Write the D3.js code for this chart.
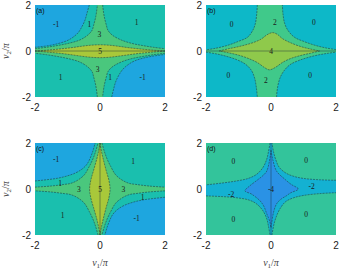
<!DOCTYPE html>
<html><head><meta charset="utf-8">
<script src="https://cdn.jsdelivr.net/npm/d3@7"></script>
<style>body{margin:0;background:#fff} svg{display:block}</style>
</head><body><div id="chart"></div>
<script>
// axis ticks (units of pi)
var ticks = [-2, 0, 2];

// colour of each winding-number level
var levels = [-4, -2, -1, 0, 1, 2, 3, 4, 5];
var levelColors = ['#2a92e5', '#14b1d2', '#1ea6df', '#0db8c8', '#1abfae', '#40c98a', '#4ac77d', '#8fc94b', '#a9c83a'];

// ---- panel (a): region outlines, [v1, v2]
var aBlueTL = [[-0.33,2],[-0.40,1.65],[-0.46,1.35],[-0.56,1.05],[-0.67,0.8],[-0.85,0.58],[-1.03,0.44],[-1.3,0.32],[-1.6,0.23],[-2,0.16]];
var aBlueBR = [[0.36,-2],[0.42,-1.65],[0.48,-1.35],[0.58,-1.05],[0.7,-0.8],[0.88,-0.58],[1.05,-0.44],[1.3,-0.32],[1.6,-0.23],[2,-0.15]];
var aGreenUL = [[-2,0.1],[-1.65,0.16],[-1.3,0.24],[-0.98,0.33],[-0.62,0.48],[-0.37,0.7],[-0.24,0.91],[-0.2,1.1],[-0.13,1.5],[-0.08,2]];
var aGreenUR = [[0.08,2],[0.13,1.5],[0.2,1.1],[0.24,0.91],[0.37,0.7],[0.65,0.48],[0.98,0.33],[1.3,0.24],[1.65,0.16],[2,0.1]];
var aGreenLR = [[2,-0.1],[1.65,-0.16],[1.3,-0.24],[0.98,-0.33],[0.65,-0.48],[0.37,-0.7],[0.24,-0.91],[0.2,-1.1],[0.13,-1.5],[0.08,-2]];
var aGreenLL = [[-0.08,-2],[-0.13,-1.5],[-0.2,-1.1],[-0.24,-0.91],[-0.37,-0.7],[-0.62,-0.48],[-0.98,-0.33],[-1.3,-0.24],[-1.65,-0.16],[-2,-0.1]];
var aLensTop = [[-2,0],[-1.6,0.04],[-1.23,0.09],[-0.9,0.14],[-0.6,0.2],[-0.3,0.25],[0,0.27],[0.3,0.25],[0.6,0.2],[0.9,0.14],[1.23,0.09],[1.6,0.04],[2,0]];
var aLensBot = [[2,0],[1.6,-0.05],[1.23,-0.1],[0.9,-0.16],[0.6,-0.22],[0.3,-0.27],[0,-0.29],[-0.3,-0.27],[-0.6,-0.22],[-0.9,-0.16],[-1.23,-0.1],[-1.6,-0.05],[-2,0]];
var aLabels = [[-1.35,1.15,'-1'],[-0.33,1.15,'1'],[-0.02,0.72,'3'],[1.13,1.22,'1'],[0,0,'5'],[-0.07,-0.8,'3'],[-1.21,-1.14,'1'],[0.31,-1.14,'1'],[1.31,-1.14,'-1']];

// ---- panel (b)
var bGreenUL = [[-0.42,2],[-0.44,1.6],[-0.48,1.2],[-0.56,0.9],[-0.72,0.6],[-1.0,0.42],[-1.35,0.24],[-1.7,0.12],[-2,0.05]];
var bGreenLL = [[-2,-0.05],[-1.7,-0.12],[-1.4,-0.22],[-1.05,-0.38],[-0.78,-0.58],[-0.6,-0.85],[-0.5,-1.2],[-0.45,-1.6],[-0.42,-2]];
var bGreenLR = [[0.17,-2],[0.2,-1.6],[0.27,-1.2],[0.38,-0.9],[0.58,-0.6],[0.88,-0.4],[1.3,-0.22],[1.7,-0.11],[2,-0.05]];
var bGreenUR = [[2,0.06],[1.7,0.13],[1.35,0.25],[1.0,0.42],[0.72,0.6],[0.52,0.9],[0.42,1.2],[0.37,1.6],[0.35,2]];
var bStarTop = [[-1.6,0],[-1.3,0.1],[-1.06,0.17],[-0.8,0.26],[-0.54,0.37],[-0.3,0.52],[-0.13,0.7],[0.05,0.8],[0.2,0.72],[0.35,0.54],[0.6,0.36],[0.9,0.2],[1.2,0.09],[1.5,0]];
var bStarBot = [[1.5,0],[1.2,-0.1],[0.9,-0.2],[0.6,-0.33],[0.35,-0.5],[0.15,-0.7],[-0.05,-0.82],[-0.2,-0.72],[-0.4,-0.52],[-0.65,-0.35],[-0.95,-0.2],[-1.3,-0.08],[-1.6,0]];
var bLabels = [[-1.21,1.15,'0'],[0.12,1.22,'2'],[1.32,1.25,'0'],[0,0,'4'],[-1.31,-1.07,'0'],[-0.16,-1.28,'2'],[1.2,-1.07,'0']];

// ---- panel (c)
var cBlueTL = [[-2,0.35],[-1.6,0.41],[-1.3,0.47],[-1.03,0.56],[-0.75,0.7],[-0.54,0.88],[-0.4,1.08],[-0.3,1.35],[-0.22,1.65],[-0.15,2]];
var cBlueBR = [[2,-0.36],[1.6,-0.42],[1.3,-0.48],[1.03,-0.57],[0.75,-0.71],[0.54,-0.89],[0.4,-1.09],[0.3,-1.36],[0.22,-1.66],[0.15,-2]];
var cGreenUL = [[-2,0.08],[-1.5,0.13],[-1.1,0.2],[-0.91,0.24],[-0.7,0.37],[-0.48,0.62],[-0.33,0.98],[-0.22,1.3],[-0.13,1.65],[-0.06,2]];
var cGreenUR = [[0.06,2],[0.13,1.65],[0.22,1.3],[0.33,0.98],[0.48,0.62],[0.7,0.37],[0.91,0.24],[1.1,0.2],[1.5,0.13],[2,0.08]];
var cGreenLR = [[2,-0.08],[1.5,-0.13],[1.1,-0.2],[0.91,-0.24],[0.7,-0.37],[0.48,-0.62],[0.33,-0.98],[0.22,-1.3],[0.13,-1.65],[0.06,-2]];
var cGreenLL = [[-0.06,-2],[-0.13,-1.65],[-0.22,-1.3],[-0.33,-0.98],[-0.48,-0.62],[-0.7,-0.37],[-0.91,-0.24],[-1.1,-0.2],[-1.5,-0.13],[-2,-0.08]];
var cLensR = [[0,2],[0.05,1.6],[0.1,1.3],[0.19,0.8],[0.27,0.4],[0.31,0],[0.27,-0.4],[0.19,-0.8],[0.1,-1.3],[0.05,-1.6],[0,-2]];
var cLensL = [[0,-2],[-0.05,-1.6],[-0.1,-1.3],[-0.2,-0.8],[-0.28,-0.4],[-0.32,0],[-0.28,0.4],[-0.2,0.8],[-0.1,1.3],[-0.05,1.6],[0,2]];
var cLabels = [[-1.35,1.28,'-1'],[1.02,1.18,'1'],[-1.23,0.25,'1'],[-0.65,-0.03,'3'],[0,0,'5'],[0.72,-0.03,'3'],[1.31,-0.37,'1'],[-1.15,-1.15,'1'],[1.13,-1.3,'-1']];

// ---- panel (d)
var dCyanUL = [[-0.03,2],[-0.08,1.6],[-0.13,1.3],[-0.24,0.95],[-0.44,0.64],[-0.7,0.46],[-1.06,0.35],[-1.5,0.26],[-2,0.18]];
var dCyanLL = [[-2,-0.3],[-1.5,-0.33],[-1.06,-0.38],[-0.7,-0.47],[-0.47,-0.62],[-0.27,-0.9],[-0.14,-1.25],[-0.08,-1.6],[-0.03,-2]];
var dCyanLR = [[0.03,-2],[0.08,-1.6],[0.15,-1.25],[0.28,-0.85],[0.45,-0.55],[0.7,-0.38],[1.0,-0.28],[1.5,-0.2],[2,-0.16]];
var dCyanUR = [[2,0.38],[1.5,0.4],[1.0,0.46],[0.7,0.55],[0.45,0.7],[0.25,0.95],[0.14,1.3],[0.08,1.6],[0.03,2]];
var dStar = [[0,1.68],[0.06,1.25],[0.17,0.78],[0.43,0.42],[0.62,0.2],[0.84,0],[0.6,-0.17],[0.48,-0.29],[0.3,-0.45],[0.17,-0.65],[0.08,-1.0],[0.02,-1.5],[0,-1.68],
             [-0.04,-1.4],[-0.13,-1.08],[-0.22,-0.75],[-0.34,-0.51],[-0.6,-0.22],[-0.8,-0.08],[-0.65,0.14],[-0.39,0.42],[-0.22,0.62],[-0.13,0.78],[-0.05,1.2],[0,1.68]];
var dLabels = [[-1.16,1.18,'0'],[1.08,1.24,'0'],[-1.23,-0.25,'-2'],[0,0,'-4'],[1.25,0.09,'-2'],[-1.16,-1.34,'0'],[1.08,-1.13,'0']];

// panel layout
var W = 340, H = 274, pw = 130, ph = 92;
var color = d3.scaleOrdinal().domain(levels).range(levelColors);

var panels = [
  {name: 'a', left: 35, top: 5, base: 1, axisLine: 'h', labels: aLabels,
   regions: [
     {level: -1, parts: [[[-2,2]], aBlueTL]},
     {level: -1, parts: [[[2,-2]], aBlueBR]},
     {level: 3, parts: [aGreenUL, aGreenUR, aGreenLR, aGreenLL]},
     {level: 5, parts: [aLensTop, aLensBot]}]},
  {name: 'b', left: 206, top: 5, base: 0, axisLine: 'h', labels: bLabels,
   regions: [
     {level: 2, parts: [bGreenUL, bGreenLL, bGreenLR, bGreenUR]},
     {level: 4, parts: [bStarTop, bStarBot]}]},
  {name: 'c', left: 35, top: 143, base: 1, axisLine: 'v', labels: cLabels, xlabel: true,
   regions: [
     {level: -1, parts: [[[-2,2]], cBlueTL]},
     {level: -1, parts: [[[2,-2]], cBlueBR]},
     {level: 3, parts: [cGreenUL, cGreenUR, cGreenLR, cGreenLL]},
     {level: 5, parts: [cLensR, cLensL]}]},
  {name: 'd', left: 206, top: 143, base: 0, baseColor: '#33c49b', axisLine: 'v', labels: dLabels, xlabel: true,
   regions: [
     {level: -2, parts: [dCyanUL, dCyanLL, dCyanLR, dCyanUR]},
     {level: -4, parts: [dStar]}]}
];

var svg = d3.select('#chart').append('svg')
  .attr('width', W).attr('height', H)
  .style('font-family', '"Liberation Sans", Arial, sans-serif');

var x = d3.scaleLinear().domain([-2, 2]).range([0, pw]);
var y = d3.scaleLinear().domain([-2, 2]).range([ph, 0]);
var line = d3.line().x(d => x(d[0])).y(d => y(d[1])).curve(d3.curveCatmullRom.alpha(0.5));

// join boundary pieces into one closed outline; single points are frame corners
function outline(parts) {
  return parts.map(function(p, i) {
    var s = p.length > 1 ? line(p) : 'M' + x(p[0][0]) + ',' + y(p[0][1]);
    return i ? 'L' + s.slice(1) : s;
  }).join('') + 'Z';
}

function vLabel(sel, sub) {
  sel.append('tspan').attr('font-style', 'italic').text('v');
  sel.append('tspan').attr('font-size', 7).attr('dy', 2).text(sub);
  sel.append('tspan').attr('dy', -2).text('/');
  sel.append('tspan').attr('font-style', 'italic').text('π');
}

panels.forEach(function(p) {
  var g = svg.append('g').attr('transform', 'translate(' + p.left + ',' + p.top + ')');
  svg.append('clipPath').attr('id', 'clip-' + p.name)
    .append('rect').attr('width', pw).attr('height', ph);
  var body = g.append('g').attr('clip-path', 'url(#clip-' + p.name + ')');

  body.append('rect').attr('width', pw).attr('height', ph)
    .attr('fill', p.baseColor || color(p.base));

  p.regions.forEach(function(r) {
    body.append('path').attr('d', outline(r.parts)).attr('fill', color(r.level));
  });

  // contour lines along every drawn boundary
  p.regions.forEach(function(r) {
    r.parts.filter(q => q.length > 1).forEach(function(q) {
      body.append('path').attr('d', line(q))
        .attr('fill', 'none').attr('stroke', '#1d2f3a')
        .attr('stroke-width', 0.6).attr('stroke-dasharray', '2,1')
        .attr('opacity', 0.85);
    });
  });

  var ax = p.axisLine === 'h' ? [[-2,0],[2,0]] : [[0,-2],[0,2]];
  body.append('line')
    .attr('x1', x(ax[0][0])).attr('y1', y(ax[0][1]))
    .attr('x2', x(ax[1][0])).attr('y2', y(ax[1][1]))
    .attr('stroke', '#1d2f3a').attr('stroke-width', 0.8).attr('opacity', 0.55);

  // level numbers
  body.selectAll('text.lvl').data(p.labels).enter().append('text')
    .attr('class', 'lvl')
    .attr('x', d => x(d[0])).attr('y', d => y(d[1]))
    .attr('text-anchor', 'middle').attr('dominant-baseline', 'central')
    .attr('font-family', '"Liberation Serif", serif').attr('font-size', 7.5)
    .attr('fill', '#1a1a1a').text(d => d[2]);

  g.append('text').attr('x', 1).attr('y', 8)
    .attr('font-size', 7).attr('fill', '#111').text('(' + p.name + ')');

  // tick labels
  g.selectAll('text.yt').data(ticks).enter().append('text')
    .attr('class', 'yt').attr('x', -4).attr('y', d => y(d))
    .attr('text-anchor', 'end').attr('dominant-baseline', 'central')
    .attr('font-size', 10).attr('fill', '#222').text(d => d);
  g.selectAll('text.xt').data(ticks).enter().append('text')
    .attr('class', 'xt').attr('x', d => x(d)).attr('y', ph + 14)
    .attr('text-anchor', 'middle')
    .attr('font-size', 10).attr('fill', '#222').text(d => d);

  if (p.xlabel) {
    g.append('text').attr('x', pw / 2).attr('y', ph + 31)
      .attr('text-anchor', 'middle').attr('font-family', '"Liberation Serif", serif')
      .attr('font-size', 10).attr('fill', '#444').call(vLabel, '1');
  }
  if (p.left < 100) {
    g.append('text').attr('transform', 'translate(-26,' + (ph / 2) + ') rotate(-90)')
      .attr('text-anchor', 'middle').attr('font-family', '"Liberation Serif", serif')
      .attr('font-size', 10).attr('fill', '#444').call(vLabel, '2');
  }
});
</script>
</body></html>
